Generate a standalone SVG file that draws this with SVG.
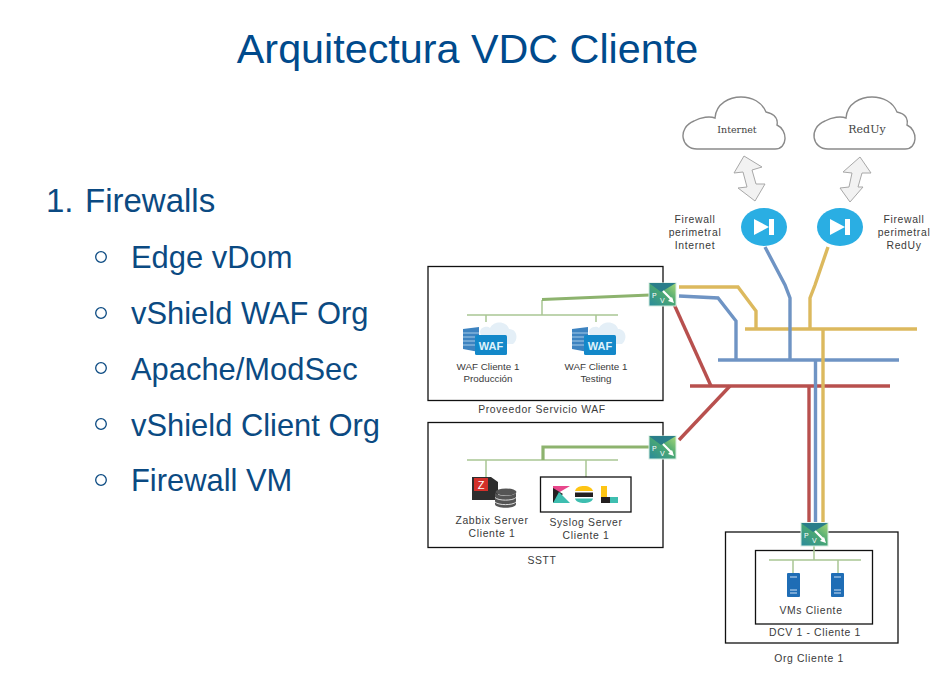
<svg xmlns="http://www.w3.org/2000/svg" width="950" height="697" viewBox="0 0 950 697">
<style>
text{font-family:"Liberation Sans",Arial,sans-serif}
.title{font-size:41.300px;fill:#004a8c;text-anchor:middle}
.h1{font-size:33px;fill:#0b4a82}
.li{font-size:30.900px;fill:#0b4a82}
.bul{fill:none;stroke:#0b4a82;stroke-width:1.300}
.lb{font-size:10.400px;letter-spacing:.65px;fill:#3a3a3a;text-anchor:middle}
.ws{font-size:9.800px;fill:#3a3a3a;text-anchor:middle}
.cl{font-family:"DejaVu Serif","Liberation Serif",serif;font-size:9.500px;fill:#444;text-anchor:middle}
.box{fill:#fff;stroke:#111;stroke-width:1.300}
.cloud{fill:#fff;stroke:#8a8a8a;stroke-width:1.400}
.darr{fill:#f2f2f2;stroke:#a8a8a8;stroke-width:1}
.fw{fill:#2aaee3}
.g{fill:none;stroke:#a9c694;stroke-width:1.500}
.gt{fill:none;stroke:#8db36e;stroke-width:3.200}
.y{fill:none;stroke:#dcb95e;stroke-width:3.400}
.b{fill:none;stroke:#6f94c4;stroke-width:3.400}
.r{fill:none;stroke:#b8504e;stroke-width:3.400}
.pv{font-size:7px;fill:#fff}
.srv{fill:#1f6db5}
.srl{stroke:#cfe2f5;stroke-width:1}
</style>
<defs>
<linearGradient id="gw" x1="0" y1="1" x2="1" y2="0"><stop offset="0" stop-color="#2a8a9c"/><stop offset=".55" stop-color="#4aa872"/><stop offset="1" stop-color="#a8d878"/></linearGradient>
<symbol id="edge" overflow="visible">
<rect width="27" height="23" fill="url(#gw)" stroke="#d5ece0" stroke-width="1"/>
<path d="M0 0H27L12 9Z" fill="#2a7e8a"/>
<path d="M14 8L23 17" stroke="#fff" stroke-width="2.200"/><path d="M25 20L19 18L23 14Z" fill="#fff"/>
<text class="pv" x="3" y="15">P</text><text class="pv" x="11" y="20">V</text>
</symbol>
<symbol id="waf" overflow="visible">
<path d="M0 7L16 5V30L0 27Z" fill="#3d83c0"/><path d="M0 11H16M0 15H16M0 19H16M0 23H16" stroke="#a5cbe8" stroke-width="1"/>
<path d="M18 13C14 6 24 3 27 6C31-2 44-1 46 7C54 7 56 17 50 22H18Z" fill="#e4eff7"/>
<rect x="12" y="13" width="32" height="20" rx="1.500" fill="#1388c9"/>
<text x="28" y="28" font-size="11" font-weight="bold" fill="#dff2fb" text-anchor="middle">WAF</text>
</symbol>
<symbol id="srvr" overflow="visible">
<rect class="srv" width="13" height="24" rx="1"/>
<path class="srl" d="M3 4H10M3 17H10M3 20H10"/>
</symbol>
<symbol id="fwg" overflow="visible">
<ellipse class="fw" cx="0" cy="0" rx="23" ry="19"/>
<path d="M-10-8L5 0L-10 8Z" fill="#fff"/><rect x="5" y="-8" width="5" height="16" fill="#fff"/>
</symbol>
</defs>
<rect width="950" height="697" fill="#fff"/>
<text class="title" x="467.500" y="63">Arquitectura VDC Cliente</text>
<g id="lista">
<text class="h1" x="46" y="212">1.</text><text class="h1" x="85" y="212">Firewalls</text>
<circle class="bul" cx="101" cy="257" r="5.300"/><text class="li" x="131" y="268">Edge vDom</text>
<circle class="bul" cx="101" cy="313" r="5.300"/><text class="li" x="131" y="324">vShield WAF Org</text>
<circle class="bul" cx="101" cy="368" r="5.300"/><text class="li" x="131" y="380">Apache/ModSec</text>
<circle class="bul" cx="101" cy="424" r="5.300"/><text class="li" x="131" y="436">vShield Client Org</text>
<circle class="bul" cx="101" cy="480" r="5.300"/><text class="li" x="131" y="491">Firewall VM</text>
</g>
<g id="proveedor-waf">
<rect class="box" x="428" y="266.500" width="235" height="134"/>
<text class="lb" x="542" y="413">Proveedor Servicio WAF</text>
<path class="g" d="M467 315H618M486 315V322M596 315V322M542 315V300"/>
<path class="gt" d="M542 299.500L650 295"/>
</g>
<g id="sstt">
<rect class="box" x="428" y="422.500" width="235" height="125"/>
<text class="lb" x="542" y="564">SSTT</text>
<path class="g" d="M467 460H618M486 460V477M586 460V477"/>
<path class="gt" d="M543 460V447H650"/>
</g>
<g id="org-cliente">
<rect class="box" x="725.500" y="532" width="172.500" height="111"/>
<rect class="box" x="755.500" y="550.500" width="117" height="73.500"/>
<text class="lb" x="815" y="636">DCV 1 - Cliente 1</text>
<text class="lb" x="809" y="662">Org Cliente 1</text>
<path class="g" d="M769 560H861M814 546V560M793 560V573M838 560V573"/>
</g>
<g id="conectores">
<path class="y" d="M679 287H738L756 311V329"/>
<path class="y" d="M745 329H917"/>
<path class="y" d="M828 247L815 285L810 298V329"/>
<path class="b" d="M679 296L718 298L736 321V360"/>
<path class="b" d="M718 360H899"/>
<path class="b" d="M765 247L785 285L790 298V360"/>
<path class="r" d="M690 386H890"/>
<path class="r" d="M673 302L711 386"/>
<path class="r" d="M730 386L679 440"/>
<path class="r" d="M809 386V522"/>
<path class="b" d="M815.500 360V522"/>
<path class="y" d="M823 329V522"/>
</g>
<g id="internet">
<path class="cloud" d="M697 149C681 149 677 128 694 121C701 117 710 116 715 118C716 103 730 97 741 97C752 97 762 102 766 112C776 114 778 120 777 125C788 130 788 149 775 149Z"/>
<text class="cl" x="737" y="133">Internet</text>
</g>
<g id="reduy">
<path class="cloud" d="M828 149C812 149 808 128 825 121C832 117 841 116 846 118C847 103 861 97 872 97C883 97 893 102 897 112C907 114 908 120 907 125C918 130 918 149 905 149Z"/>
<text class="cl" x="867" y="133" style="font-size:11px">RedUy</text>
</g>
<g id="flecha-internet"><polygon class="darr" points="744,156 762,167 752,170 756,184 765,184 755,201 738,188 747,187 743,172 734,173"/></g>
<g id="flecha-reduy"><polygon class="darr" points="860,157 871,173 862,173 858,187 863,187 850,202 840,188 849,187 852,173 843,172"/></g>
<g id="fw-internet">
<use href="#fwg" x="764" y="227"/>
<text class="lb" x="695" y="223">Firewall</text><text class="lb" x="695" y="236">perimetral</text><text class="lb" x="695" y="249">Internet</text>
</g>
<g id="fw-reduy">
<use href="#fwg" x="840" y="227"/>
<text class="lb" x="904" y="223">Firewall</text><text class="lb" x="904" y="236">perimetral</text><text class="lb" x="904" y="249">RedUy</text>
</g>
<g id="edge-waf"><use href="#edge" x="649" y="283"/></g>
<g id="edge-sstt"><use href="#edge" x="649" y="436"/></g>
<g id="edge-org"><use href="#edge" x="801" y="523"/></g>
<g id="waf-produccion"><use href="#waf" x="463" y="322"/>
<text class="ws" x="488" y="370">WAF Cliente 1</text><text class="ws" x="488" y="382">Producción</text></g>
<g id="waf-testing"><use href="#waf" x="572" y="322"/>
<text class="ws" x="596" y="369.500">WAF Cliente 1</text><text class="ws" x="596" y="381.500">Testing</text></g>
<g id="zabbix">
<path d="M472 477H491L498 482V500H472Z" fill="#2e2e2e"/>
<rect x="474" y="478" width="14" height="13" fill="#d2302a"/>
<text x="481" y="489" font-size="11" fill="#fff" text-anchor="middle">Z</text>
<ellipse cx="506" cy="492" rx="10.500" ry="3.500" fill="#555"/>
<path d="M495 492V504C495 509 516 509 516 504V492C516 497 495 497 495 492Z" fill="#555"/>
<path d="M495 497.500C498 501 513 501 516 497.500M495 502C498 505.500 513 505.500 516 502" stroke="#ddd" fill="none"/>
<text class="lb" x="492" y="524">Zabbix Server</text><text class="lb" x="492" y="537">Cliente 1</text>
</g>
<g id="syslog">
<rect class="box" x="540.500" y="477" width="90.500" height="35"/>
<path d="M553 486H570L553 496Z" fill="#e8478b"/><path d="M553 488V503L563 494Z" fill="#231f20"/><path d="M553 503H570L559 492Z" fill="#3ebeb0"/>
<path d="M575 491C576 487 580 486 584 486C589 486 592 488 593 491Z" fill="#fec514"/><path d="M575 492.500H593V497H575Z" fill="#231f20"/><path d="M575 498.500H593C592 502 588 503 584 503C580 503 576 502 575 498.500Z" fill="#3ebeb0"/>
<path d="M601 486H607V497H601Z" fill="#fec514"/><path d="M601 497H610V503H601Z" fill="#231f20"/><path d="M610 497H618V503H610Z" fill="#3ebeb0"/>
<text class="lb" x="586" y="526">Syslog Server</text><text class="lb" x="586" y="538.500">Cliente 1</text>
</g>
<g id="vms-cliente">
<use href="#srvr" x="787" y="573"/><use href="#srvr" x="831" y="573"/>
<text class="lb" x="811" y="614">VMs Cliente</text>
</g>
</svg>
